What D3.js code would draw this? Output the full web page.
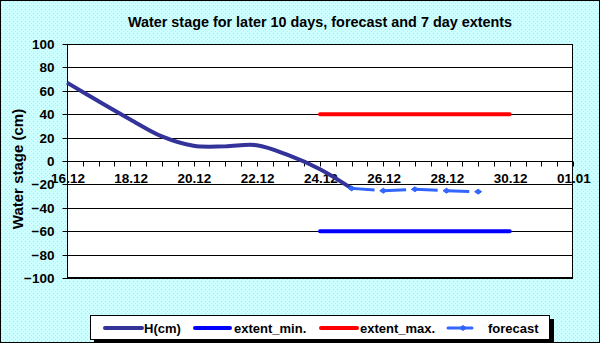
<!DOCTYPE html>
<meta charset="utf-8">
<style>
  body { margin: 0; }
  text { font-family: Arial, "Liberation Sans", sans-serif; font-weight: bold; fill: #000; }
</style>
<body>
<div id="chart"></div>
<script src="https://d3js.org/d3.v7.min.js"></script>
<script>
// observed water stage, one value a day 16.12 - 25.12
var hDates = ["2008-12-16", "2008-12-17", "2008-12-18", "2008-12-19", "2008-12-20",
              "2008-12-21", "2008-12-22", "2008-12-23", "2008-12-24", "2008-12-25"];
var hValues = [67, 51, 35.5, 21, 13, 12.5, 13.5, 5, -7, -23.4];

// forecast 25.12 - 29.12
var fcDates = ["2008-12-25", "2008-12-26", "2008-12-27", "2008-12-28", "2008-12-29"];
var fcValues = [-23.4, -25.4, -24.2, -25.4, -26.2];

// 7 day extents
var extDates = ["2008-12-24", "2008-12-30"];
var extMin = [-60, -60];
var extMax = [40, 40];

var yTicks = [-100, -80, -60, -40, -20, 0, 20, 40, 60, 80, 100];
var xStart = "2008-12-16", xEnd = "2009-01-01";

var W = 600, H = 343;
var margin = { top: 44, right: 27, bottom: 65, left: 67 },
    width = W - margin.left - margin.right,
    height = H - margin.top - margin.bottom;

var parse = d3.utcParse("%Y-%m-%d");
var fmt = d3.utcFormat("%d.%m");

var svg = d3.select("#chart").append("svg")
  .attr("width", W).attr("height", H);

// dotted light turquoise background
var pat = svg.append("defs").append("pattern")
  .attr("id", "dots").attr("width", 4).attr("height", 4)
  .attr("patternUnits", "userSpaceOnUse");
pat.append("rect").attr("width", 4).attr("height", 4).attr("fill", "#ccffff");
pat.append("rect").attr("x", 1).attr("y", 1).attr("width", 1).attr("height", 1).attr("fill", "#a9e4e6");
pat.append("rect").attr("x", 3).attr("y", 3).attr("width", 1).attr("height", 1).attr("fill", "#b8eef0");

svg.append("rect")
  .attr("x", 0.5).attr("y", 0.5).attr("width", W - 1).attr("height", H - 1)
  .attr("fill", "url(#dots)").attr("stroke", "#000");

svg.append("text")
  .attr("x", 320).attr("y", 26.5)
  .attr("text-anchor", "middle")
  .style("font-size", "14.4px")
  .text("Water stage for later 10 days, forecast and 7 day extents");

var g = svg.append("g")
  .attr("transform", "translate(" + margin.left + "," + margin.top + ")");

var x = d3.scaleUtc()
  .domain([parse(xStart), parse(xEnd)])
  .range([0, width]);
var y = d3.scaleLinear()
  .domain([-100, 100])
  .range([height, 0]);

g.append("rect")
  .attr("width", width).attr("height", height)
  .attr("fill", "#fff");

// horizontal grid
g.append("g")
  .selectAll("line")
  .data(yTicks)
  .enter().append("line")
  .attr("x1", 0).attr("x2", width)
  .attr("y1", function (d) { return Math.round(y(d)) + 0.5; })
  .attr("y2", function (d) { return Math.round(y(d)) + 0.5; })
  .attr("stroke", "#000");

g.append("rect")
  .attr("x", 0.5).attr("y", 0.5)
  .attr("width", width - 1).attr("height", height - 1)
  .attr("fill", "none").attr("stroke", "#000");

// Y axis
var yAxis = g.append("g")
  .attr("transform", "translate(0.5,0)")
  .call(d3.axisLeft(y).tickValues(yTicks).tickSize(5).tickPadding(8));
yAxis.select(".domain").remove();
yAxis.selectAll("text").style("font-size", "13.5px").style("font-family", null).style("font-weight", "bold");
yAxis.selectAll("line").attr("stroke", "#000");
yAxis.selectAll(".tick").attr("transform", function (d) {
  return "translate(0," + (Math.round(y(d)) + 0.5) + ")";
});

// X axis at zero, ticks every 12 hours, labels every 2 days
var halfDays = d3.utcHour.range(parse(xStart), d3.utcHour.offset(parse(xEnd), 1), 12);
var labelDays = d3.utcDay.range(parse(xStart), d3.utcHour.offset(parse(xEnd), 1), 2);

var y0 = Math.round(y(0)) + 0.5;
var xAxis = g.append("g")
  .attr("transform", "translate(0," + y0 + ")");
xAxis.selectAll("line.tk")
  .data(halfDays)
  .enter().append("line")
  .attr("class", "tk")
  .attr("x1", function (d) { return Math.round(x(d)) + 0.5; })
  .attr("x2", function (d) { return Math.round(x(d)) + 0.5; })
  .attr("y1", 0).attr("y2", 5)
  .attr("stroke", "#000");
xAxis.selectAll("text.lb")
  .data(labelDays)
  .enter().append("text")
  .attr("class", "lb")
  .attr("x", function (d) { return x(d) + 1; })
  .attr("y", 21)
  .attr("text-anchor", "middle")
  .style("font-size", "13.5px")
  .text(fmt);

svg.append("text")
  .attr("transform", "translate(23,169) rotate(-90)")
  .attr("text-anchor", "middle")
  .style("font-size", "15px")
  .text("Water stage (cm)");

// series
var smooth = d3.line()
  .x(function (d) { return x(d[0]); })
  .y(function (d) { return y(d[1]); })
  .curve(d3.curveCatmullRom.alpha(0.5));
var straight = d3.line()
  .x(function (d) { return x(d[0]); })
  .y(function (d) { return y(d[1]); });

function pairs(dates, vals) {
  return dates.map(function (d, i) { return [parse(d), vals[i]]; });
}

g.append("path")
  .datum(pairs(extDates, extMax))
  .attr("d", straight)
  .attr("fill", "none").attr("stroke", "#ff0000")
  .attr("stroke-width", 4).attr("stroke-linecap", "round");
g.append("path")
  .datum(pairs(extDates, extMin))
  .attr("d", straight)
  .attr("fill", "none").attr("stroke", "#0000ff")
  .attr("stroke-width", 4).attr("stroke-linecap", "round");

var fc = pairs(fcDates, fcValues);
g.append("path")
  .datum(fc)
  .attr("d", straight)
  .attr("fill", "none").attr("stroke", "#3366ff")
  .attr("stroke-width", 3)
  .attr("stroke-dasharray", "23,8.6");

g.append("path")
  .datum(pairs(hDates, hValues))
  .attr("d", smooth)
  .attr("fill", "none").attr("stroke", "#333399")
  .attr("stroke-width", 4).attr("stroke-linejoin", "round");

var diamond = "M-3.5,0L0,-2.5L3.5,0L0,2.5Z";
g.selectAll(".fcm")
  .data(fc)
  .enter().append("path")
  .attr("class", "fcm")
  .attr("transform", function (d) { return "translate(" + x(d[0]) + "," + y(d[1]) + ")"; })
  .attr("d", diamond)
  .attr("fill", "#3366ff").attr("stroke", "#3366ff");

// legend
var legend = svg.append("g");
legend.append("rect")
  .attr("x", 94).attr("y", 319).attr("width", 460).attr("height", 25)
  .attr("fill", "#000");
legend.append("rect")
  .attr("x", 90.5).attr("y", 315.5).attr("width", 459).attr("height", 24)
  .attr("fill", "#fff").attr("stroke", "#000");

var legItems = [
  { name: "H(cm)", color: "#333399", x1: 105, x2: 142, tx: 144, w: 4 },
  { name: "extent_min.", color: "#0000ff", x1: 195, x2: 230, tx: 234, w: 4 },
  { name: "extent_max.", color: "#ff0000", x1: 321, x2: 357, tx: 360, w: 4 },
  { name: "forecast", color: "#3366ff", x1: 448, x2: 472, tx: 488, w: 3, marker: true }
];
legItems.forEach(function (it) {
  legend.append("line")
    .attr("x1", it.x1).attr("x2", it.x2)
    .attr("y1", 328).attr("y2", 328)
    .attr("stroke", it.color).attr("stroke-width", it.w)
    .attr("stroke-linecap", "round");
  if (it.marker) {
    legend.append("path")
      .attr("transform", "translate(463,328)")
      .attr("d", diamond)
      .attr("fill", it.color).attr("stroke", it.color);
  }
  legend.append("text")
    .attr("x", it.tx).attr("y", 332.5)
    .style("font-size", "13px")
    .text(it.name);
});
</script>
</body>
